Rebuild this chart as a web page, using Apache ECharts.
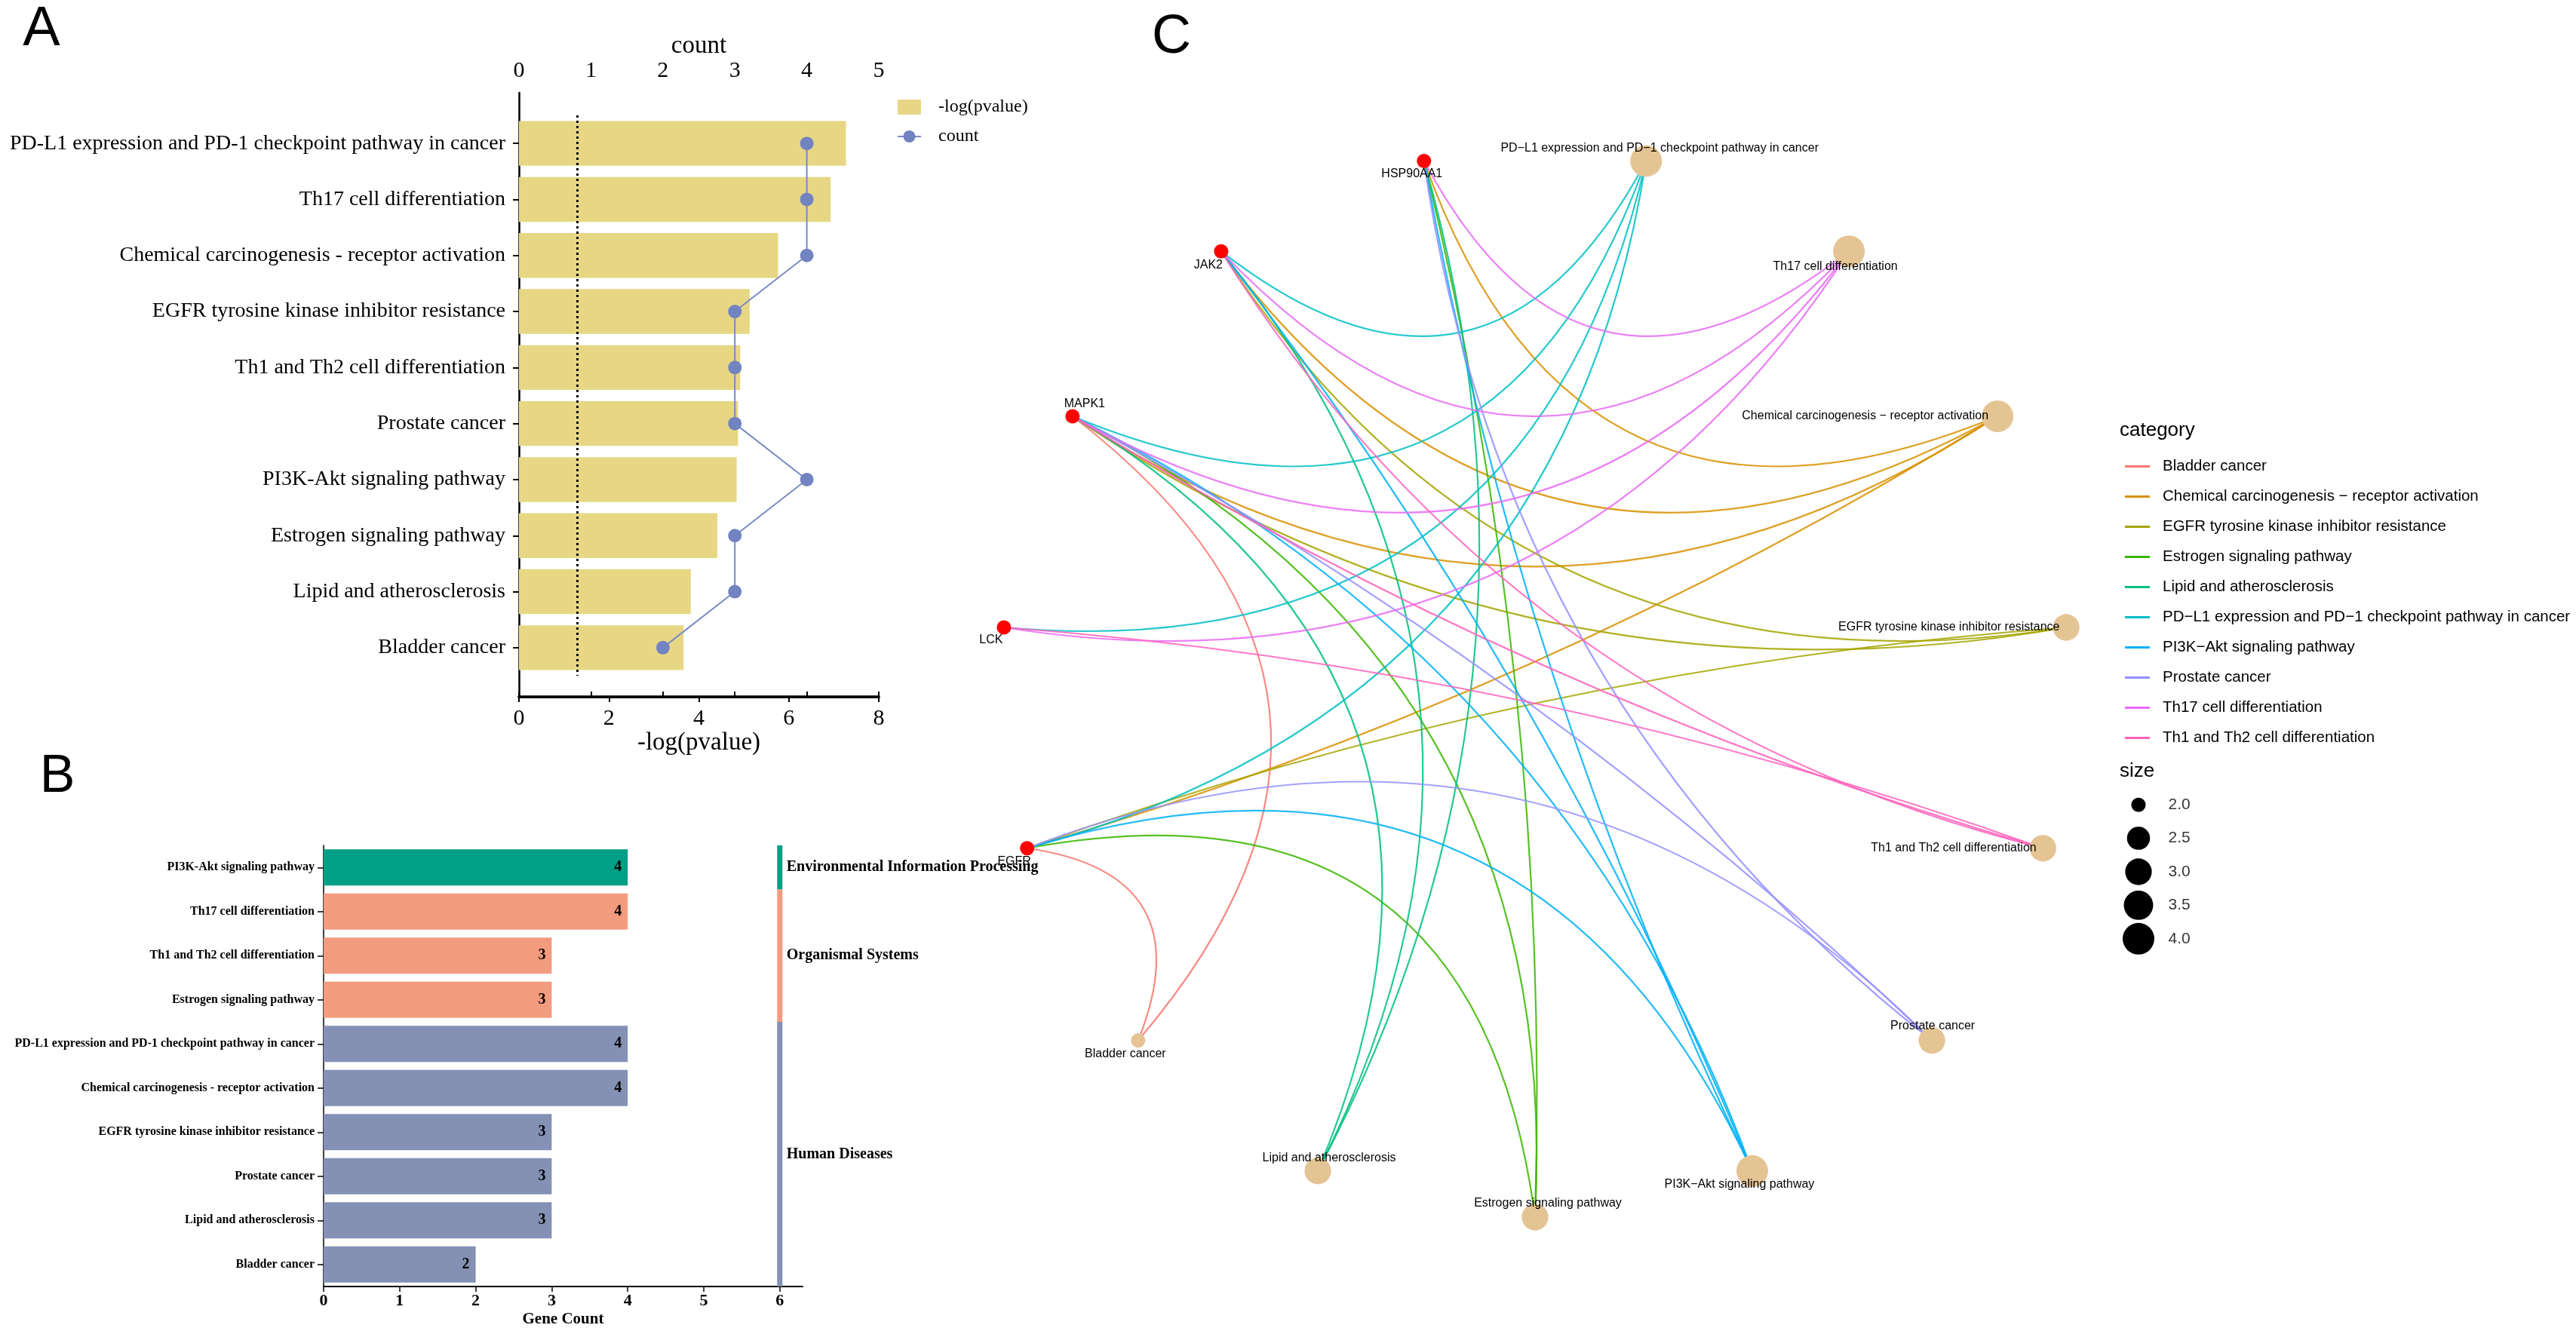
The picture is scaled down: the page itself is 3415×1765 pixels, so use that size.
<!DOCTYPE html>
<html>
<head>
<meta charset="utf-8">
<script src="https://cdn.jsdelivr.net/npm/echarts@6.0.0/dist/echarts.min.js"></script>
<style>html,body{margin:0;padding:0;background:#fff;}#main{width:3415px;height:1765px;}</style>
</head>
<body>
<div id="main"></div>
<script>
// ---------------- Panel A data ----------------
const pathwaysA = [
  'PD-L1 expression and PD-1 checkpoint pathway in cancer',
  'Th17 cell differentiation',
  'Chemical carcinogenesis - receptor activation',
  'EGFR tyrosine kinase inhibitor resistance',
  'Th1 and Th2 cell differentiation',
  'Prostate cancer',
  'PI3K-Akt signaling pathway',
  'Estrogen signaling pathway',
  'Lipid and atherosclerosis',
  'Bladder cancer'
];
const negLogP = [7.27, 6.93, 5.76, 5.13, 4.92, 4.87, 4.84, 4.41, 3.82, 3.66];
const countA = [4, 4, 4, 3, 3, 3, 4, 3, 3, 2];
const pThreshold = 1.3;
const countTicks = [0, 1, 2, 3, 4, 5];
const logTicks = [0, 2, 4, 6, 8];

// ---------------- Panel B data ----------------
const pathwaysB = [
  'PI3K-Akt signaling pathway',
  'Th17 cell differentiation',
  'Th1 and Th2 cell differentiation',
  'Estrogen signaling pathway',
  'PD-L1 expression and PD-1 checkpoint pathway in cancer',
  'Chemical carcinogenesis - receptor activation',
  'EGFR tyrosine kinase inhibitor resistance',
  'Prostate cancer',
  'Lipid and atherosclerosis',
  'Bladder cancer'
];
const geneCountB = [4, 4, 3, 3, 4, 4, 3, 3, 3, 2];
const classB = [
  'Environmental Information Processing',
  'Organismal Systems', 'Organismal Systems', 'Organismal Systems',
  'Human Diseases', 'Human Diseases', 'Human Diseases',
  'Human Diseases', 'Human Diseases', 'Human Diseases'
];
const classNames = ['Environmental Information Processing', 'Organismal Systems', 'Human Diseases'];
const classBarValue = 6;

// ---------------- Panel C data ----------------
const genes = ['HSP90AA1', 'JAK2', 'MAPK1', 'LCK', 'EGFR'];
const cnetPathways = [
  'Bladder cancer',
  'Chemical carcinogenesis - receptor activation',
  'EGFR tyrosine kinase inhibitor resistance',
  'Estrogen signaling pathway',
  'Lipid and atherosclerosis',
  'PD-L1 expression and PD-1 checkpoint pathway in cancer',
  'PI3K-Akt signaling pathway',
  'Prostate cancer',
  'Th17 cell differentiation',
  'Th1 and Th2 cell differentiation'
];
const pathwayGenes = [
  ['MAPK1', 'EGFR'],
  ['HSP90AA1', 'JAK2', 'MAPK1', 'EGFR'],
  ['JAK2', 'MAPK1', 'EGFR'],
  ['HSP90AA1', 'MAPK1', 'EGFR'],
  ['HSP90AA1', 'JAK2', 'MAPK1'],
  ['JAK2', 'MAPK1', 'LCK', 'EGFR'],
  ['HSP90AA1', 'JAK2', 'MAPK1', 'EGFR'],
  ['HSP90AA1', 'MAPK1', 'EGFR'],
  ['HSP90AA1', 'JAK2', 'MAPK1', 'LCK'],
  ['JAK2', 'MAPK1', 'LCK']
];
// circular node order, clockwise starting at HSP90AA1
const circleOrder = [
  'HSP90AA1',
  'PD-L1 expression and PD-1 checkpoint pathway in cancer',
  'Th17 cell differentiation',
  'Chemical carcinogenesis - receptor activation',
  'EGFR tyrosine kinase inhibitor resistance',
  'Th1 and Th2 cell differentiation',
  'Prostate cancer',
  'PI3K-Akt signaling pathway',
  'Estrogen signaling pathway',
  'Lipid and atherosclerosis',
  'Bladder cancer',
  'EGFR', 'LCK', 'MAPK1', 'JAK2'
];
const sizeLegendValues = [2.0, 2.5, 3.0, 3.5, 4.0];

// ---------------- styles ----------------
const SERIF = '"Liberation Serif", "Times New Roman", serif';
const SANS = '"Liberation Sans", Arial, sans-serif';
const catColors = ['#F8766D', '#D89000', '#A3A500', '#39B600', '#00BF7D', '#00BFC4', '#00B0F6', '#9590FF', '#E76BF3', '#FF62BC'];
const classColors = { 'Environmental Information Processing': '#00A087', 'Organismal Systems': '#F39B7F', 'Human Diseases': '#8491B4' };
const barColorA = '#E7D785';
const countColor = '#7A8BC4';
const geneColor = '#FF0000';
const pathColor = '#E5C494';
const sizeScale = v => 19 + 23 * Math.sqrt((v - 2) / 2);
const geneSymbolSize = 19;
const ANGLE0 = 102, STEP = 360 / circleOrder.length;
const toC = s => s.replace(/-/g, '\u2212');

// ----- panel C label placement (style) -----
const labelOffsets = {
  'HSP90AA1': [-16, 17], 'JAK2': [-17, 18], 'MAPK1': [16, -16], 'LCK': [-17, 17], 'EGFR': [-17, 18],
  'PD-L1 expression and PD-1 checkpoint pathway in cancer': [18, -17],
  'Th17 cell differentiation': [-18, 20],
  'Prostate cancer': [1, -19],
  'PI3K-Akt signaling pathway': [-17, 18],
  'Estrogen signaling pathway': [17, -18],
  'Lipid and atherosclerosis': [15, -17],
  'Bladder cancer': [-17, 18]
};
function nodeLabel(name) {
  const base = { show: true, color: '#000', fontSize: 16, fontFamily: SANS };
  if (labelOffsets[name]) return Object.assign(base, { position: 'inside', offset: labelOffsets[name] });
  return Object.assign(base, { position: 'left', distance: -9 });
}
function curv(s, t) {
  const a1 = (ANGLE0 - STEP * s) * Math.PI / 180, a2 = (ANGLE0 - STEP * t) * Math.PI / 180;
  const p1 = [Math.cos(a1), -Math.sin(a1)], p2 = [Math.cos(a2), -Math.sin(a2)];
  const off = [p2[1] - p1[1], p1[0] - p2[0]];
  const m = [(p1[0] + p2[0]) / 2, (p1[1] + p2[1]) / 2];
  const sign = (off[0] * -m[0] + off[1] * -m[1]) >= 0 ? 1 : -1;
  let d = Math.abs(STEP * (s - t)) % 360; if (d > 180) d = 360 - d;
  return sign * 0.65 * Math.cos(d / 2 * Math.PI / 180);
}

const nodes = circleOrder.map((name, i) => {
  const isGene = genes.indexOf(name) >= 0;
  const pi = cnetPathways.indexOf(name);
  return {
    name: toC(name),
    value: [1, i],
    symbolSize: isGene ? geneSymbolSize : sizeScale(pathwayGenes[pi].length),
    itemStyle: { color: isGene ? geneColor : pathColor },
    label: nodeLabel(name)
  };
});
const links = [];
cnetPathways.forEach((p, pi) => {
  pathwayGenes[pi].forEach(g => {
    const s = circleOrder.indexOf(g), t = circleOrder.indexOf(p);
    links.push({ source: s, target: t, lineStyle: { color: catColors[pi], curveness: curv(s, t) } });
  });
});

// class groups for panel B side bar
const classGroups = [];
classB.forEach((c, i) => {
  const last = classGroups[classGroups.length - 1];
  if (last && last.name === c) last.end = i; else classGroups.push({ name: c, start: i, end: i });
});

const axisBlack = w => ({ show: true, lineStyle: { color: '#000', width: w } });

const chart = echarts.init(document.getElementById('main'), null, { renderer: 'canvas' });
const option = {
  animation: false,
  backgroundColor: '#fff',
  graphic: [
    { type: 'text', x: 55, y: 40, style: { text: 'A', font: '74px ' + SANS, fill: '#000', align: 'center', verticalAlign: 'middle' } },
    { type: 'text', x: 76, y: 1031, style: { text: 'B', font: '70px ' + SANS, fill: '#000', align: 'center', verticalAlign: 'middle' } },
    { type: 'text', x: 1553, y: 50, style: { text: 'C', font: '72px ' + SANS, fill: '#000', align: 'center', verticalAlign: 'middle' } },
    { type: 'text', x: 2810, y: 571, style: { text: 'category', font: '26px ' + SANS, fill: '#000', align: 'left', verticalAlign: 'middle' } },
    { type: 'text', x: 2810, y: 1023, style: { text: 'size', font: '26px ' + SANS, fill: '#000', align: 'left', verticalAlign: 'middle' } }
  ],
  legend: [
    {
      data: [{ name: '-log(pvalue)', icon: 'rect' }, 'count'],
      orient: 'vertical', left: 1184, top: 125, itemWidth: 31, itemHeight: 20, itemGap: 15,
      textStyle: { fontFamily: SERIF, fontSize: 24, color: '#000', padding: [0, 0, 0, 18] },
      selectedMode: false
    },
    {
      data: cnetPathways.map(toC),
      orient: 'vertical', left: 2812, top: 603, icon: 'rect', itemWidth: 33, itemHeight: 3, itemGap: 19,
      textStyle: { fontFamily: SANS, fontSize: 20.5, color: '#000', lineHeight: 21, padding: [0, 0, 0, 12] },
      selectedMode: false
    }
  ],
  grid: [
    { left: 688, top: 153, width: 477, height: 743, outerBoundsMode: 'none' },
    { left: 688, top: 123, width: 477, height: 801, outerBoundsMode: 'none' },
    { left: 429, top: 1121, width: 635, height: 585, outerBoundsMode: 'none' },
    { left: 2815, top: 1045, width: 100, height: 222, outerBoundsMode: 'none' }
  ],
  xAxis: [
    { gridIndex: 0, type: 'value', min: 0, max: 8, show: false },
    { gridIndex: 0, type: 'value', min: 0, max: 5, show: false },
    {
      gridIndex: 1, type: 'value', position: 'top', min: countTicks[0], max: countTicks[countTicks.length - 1], interval: 1,
      name: 'count', nameLocation: 'middle', nameGap: 44,
      nameTextStyle: { fontFamily: SERIF, fontSize: 33, color: '#000' },
      axisLine: axisBlack(3), axisTick: { show: true, length: 7, lineStyle: { color: '#000', width: 2 } },
      axisLabel: { margin: 14, fontFamily: SERIF, fontSize: 30, color: '#000' }, splitLine: { show: false }
    },
    {
      gridIndex: 1, type: 'value', position: 'bottom', min: logTicks[0], max: logTicks[logTicks.length - 1], interval: 2,
      name: '-log(pvalue)', nameLocation: 'middle', nameGap: 42,
      nameTextStyle: { fontFamily: SERIF, fontSize: 33, color: '#000' },
      axisLine: axisBlack(3.5), axisTick: { show: true, length: 7, lineStyle: { color: '#000', width: 2 } },
      axisLabel: { margin: 14, fontFamily: SERIF, fontSize: 30, color: '#000' }, splitLine: { show: false }
    },
    {
      gridIndex: 2, type: 'value', min: 0, max: 6.3, interval: 1,
      name: 'Gene Count', nameLocation: 'middle', nameGap: 33,
      nameTextStyle: { fontFamily: SERIF, fontSize: 21, fontWeight: 'bold', color: '#000' },
      axisLine: axisBlack(2), axisTick: { show: true, length: 7, lineStyle: { color: '#000', width: 1.5 } },
      axisLabel: { margin: 8, fontFamily: SERIF, fontSize: 22, fontWeight: 'bold', color: '#000', showMaxLabel: false },
      splitLine: { show: false }
    },
    { gridIndex: 3, type: 'value', min: 0, max: 100, show: false }
  ],
  yAxis: [
    {
      gridIndex: 0, type: 'category', inverse: true, data: pathwaysA,
      axisLine: { show: false }, axisTick: { show: true, alignWithLabel: true, length: 8, lineStyle: { color: '#000', width: 2 } },
      axisLabel: { margin: 18, fontFamily: SERIF, fontSize: 28, color: '#000' }
    },
    {
      gridIndex: 1, type: 'value', min: 0, max: 1,
      axisLine: axisBlack(2.5), axisTick: { show: false }, axisLabel: { show: false }, splitLine: { show: false }
    },
    {
      gridIndex: 2, type: 'category', inverse: true, data: pathwaysB,
      axisLine: axisBlack(1.5), axisTick: { show: true, alignWithLabel: true, length: 8, lineStyle: { color: '#000', width: 1.5 } },
      axisLabel: { margin: 12, fontFamily: SERIF, fontSize: 16, fontWeight: 'bold', color: '#000' }
    },
    { gridIndex: 3, type: 'category', inverse: true, data: sizeLegendValues.map(v => v.toFixed(1)), show: false }
  ],
  polar: { center: [2035, 906], radius: 708 },
  angleAxis: {
    type: 'category', data: circleOrder, startAngle: ANGLE0 + STEP / 2, clockwise: true, boundaryGap: true,
    show: false, axisLine: { show: false }, splitLine: { show: false }, axisTick: { show: false }, axisLabel: { show: false }
  },
  radiusAxis: { type: 'value', min: 0, max: 1, show: false, splitLine: { show: false }, axisLine: { show: false } },
  series: [
    {
      name: '-log(pvalue)', type: 'bar', xAxisIndex: 0, yAxisIndex: 0, data: negLogP,
      itemStyle: { color: barColorA }, barCategoryGap: '20%',
      markLine: {
        silent: true, symbol: ['none', 'none'], label: { show: false },
        lineStyle: { color: '#000', width: 3, type: [3, 4] },
        data: [{ xAxis: pThreshold }]
      }
    },
    {
      name: 'count', type: 'line', xAxisIndex: 1, yAxisIndex: 0, z: 5,
      data: countA.map((v, i) => [v, i]),
      symbol: 'circle', symbolSize: 18,
      lineStyle: { color: countColor, width: 2 }, itemStyle: { color: '#7183C0' }
    },
    {
      name: 'Gene Count', type: 'bar', xAxisIndex: 4, yAxisIndex: 2, barCategoryGap: '18%',
      data: geneCountB.map((v, i) => ({ value: v, itemStyle: { color: classColors[classB[i]] } })),
      label: { show: true, position: 'insideRight', distance: 8, fontFamily: SERIF, fontSize: 20, fontWeight: 'bold', color: '#000' }
    },
    {
      name: 'KEGG class', type: 'custom', xAxisIndex: 4, yAxisIndex: 2, silent: true,
      data: classGroups.map(g => [classBarValue, g.start, g.end, classNames.indexOf(g.name)]),
      renderItem: function (params, api) {
        const x = api.coord([api.value(0), api.value(1)])[0];
        const band = api.size([0, 1])[1];
        const yTop = api.coord([0, api.value(1)])[1] - band / 2;
        const yBot = api.coord([0, api.value(2)])[1] + band / 2;
        const cname = classNames[api.value(3)];
        return {
          type: 'group', children: [
            { type: 'rect', shape: { x: x - 3.5, y: yTop, width: 7, height: yBot - yTop }, style: { fill: classColors[cname] } },
            { type: 'text', x: x + 9, y: (yTop + yBot) / 2, style: { text: cname, align: 'left', verticalAlign: 'middle', fontFamily: SERIF, fontSize: 20, fontWeight: 'bold', fill: '#000' } }
          ]
        };
      }
    },
    {
      name: 'cnet', type: 'graph', coordinateSystem: 'polar', polarIndex: 0,
      symbol: 'circle', data: nodes, links: links, silent: true, z: 3,
      lineStyle: { width: 2.2, opacity: 0.85 },
      emphasis: { disabled: true }
    },
    {
      name: 'sizeCircles', type: 'scatter', xAxisIndex: 5, yAxisIndex: 3, silent: true,
      data: sizeLegendValues.map((v, i) => [20, i]),
      symbolSize: (val, p) => sizeScale(sizeLegendValues[p.dataIndex]),
      itemStyle: { color: '#000', opacity: 1 }
    },
    {
      name: 'sizeLabels', type: 'scatter', xAxisIndex: 5, yAxisIndex: 3, silent: true,
      data: sizeLegendValues.map((v, i) => [59, i]),
      symbolSize: 1, itemStyle: { color: 'rgba(0,0,0,0)' },
      label: { show: true, position: 'right', distance: 0, color: '#000', fontFamily: SANS, fontSize: 21, formatter: p => sizeLegendValues[p.dataIndex].toFixed(1) }
    }
  ].concat(cnetPathways.map((p, i) => ({
    name: toC(p), type: 'line', xAxisIndex: 5, yAxisIndex: 3, data: [],
    color: catColors[i], itemStyle: { color: catColors[i] }, lineStyle: { color: catColors[i] }
  })))
};
chart.setOption(option);
</script>
</body>
</html>
